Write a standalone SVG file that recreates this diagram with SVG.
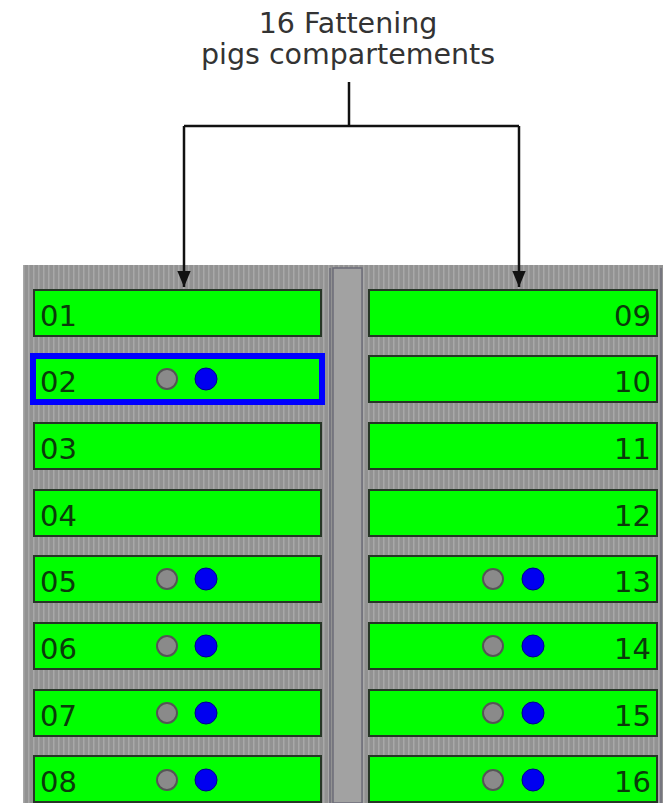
<svg xmlns="http://www.w3.org/2000/svg" width="666" height="803" viewBox="0 0 666 803">
<style>
.pen{fill:#00ff00;stroke:#263626;stroke-width:2}
.num{font-family:"DejaVu Sans",Verdana,sans-serif;font-size:29px;fill:#0b3a0b}
.title{font-family:"DejaVu Sans",Verdana,sans-serif;font-size:28.5px;fill:#333;text-anchor:middle}
.g{fill:#8a8a8a;stroke:#555;stroke-width:2}
.b{fill:#0000f0;stroke:#00008a;stroke-width:1}
.con{fill:none;stroke:#111;stroke-width:2.5}
</style>
<defs>
<pattern id="stripes" width="5" height="10" patternUnits="userSpaceOnUse">
<rect width="5" height="10" fill="#929292"/>
<rect x="3" width="1.5" height="10" fill="#a8a8a8"/>
</pattern>
<marker id="arr" viewBox="0 0 12 10" refX="12" refY="5" markerWidth="6.5" markerHeight="5.5" orient="auto" markerUnits="strokeWidth">
<path d="M0,0 L12,5 L0,10 z" fill="#111"/>
</marker>
</defs>
<rect width="666" height="803" fill="#fff"/>
<g id="floor">
<rect x="23" y="265" width="640" height="538" fill="url(#stripes)"/>
<rect x="333" y="268" width="29" height="535" fill="#a2a2a2" stroke="#6c6c78" stroke-width="1.5"/>
<line x1="330" y1="268" x2="330" y2="803" stroke="#6c6c78" stroke-width="1.5"/>
<line x1="661" y1="268" x2="661" y2="803" stroke="#6c6c78" stroke-width="1.5"/>
</g>
<g id="title">
<text class="title" x="348" y="33">16 Fattening</text>
<text class="title" x="348" y="64">pigs compartements</text>
</g>
<g id="connectors">
<path class="con" d="M349,82 V126"/>
<path class="con" d="M184,126 H519"/>
<path class="con" d="M184,126 V287" marker-end="url(#arr)"/>
<path class="con" d="M519,126 V287" marker-end="url(#arr)"/>
</g>
<g id="c01"><rect class="pen" x="34" y="290" width="287" height="46"/><text class="num" x="40" y="326">01</text></g>
<g id="c02"><rect x="33" y="356" width="289" height="46" fill="#00ff00" stroke="#0000ff" stroke-width="6"/><text class="num" x="40" y="392">02</text><circle class="g" cx="167" cy="379" r="10"/><circle class="b" cx="206" cy="379" r="11"/></g>
<g id="c03"><rect class="pen" x="34" y="423" width="287" height="46"/><text class="num" x="40" y="459">03</text></g>
<g id="c04"><rect class="pen" x="34" y="490" width="287" height="46"/><text class="num" x="40" y="526">04</text></g>
<g id="c05"><rect class="pen" x="34" y="556" width="287" height="46"/><text class="num" x="40" y="592">05</text><circle class="g" cx="167" cy="579" r="10"/><circle class="b" cx="206" cy="579" r="11"/></g>
<g id="c06"><rect class="pen" x="34" y="623" width="287" height="46"/><text class="num" x="40" y="659">06</text><circle class="g" cx="167" cy="646" r="10"/><circle class="b" cx="206" cy="646" r="11"/></g>
<g id="c07"><rect class="pen" x="34" y="690" width="287" height="46"/><text class="num" x="40" y="726">07</text><circle class="g" cx="167" cy="713" r="10"/><circle class="b" cx="206" cy="713" r="11"/></g>
<g id="c08"><rect class="pen" x="34" y="756" width="287" height="46"/><text class="num" x="40" y="792">08</text><circle class="g" cx="167" cy="780" r="10"/><circle class="b" cx="206" cy="780" r="11"/></g>
<g id="c09"><rect class="pen" x="369" y="290" width="288" height="46"/><text class="num" x="651" y="326" text-anchor="end">09</text></g>
<g id="c10"><rect class="pen" x="369" y="356" width="288" height="46"/><text class="num" x="651" y="392" text-anchor="end">10</text></g>
<g id="c11"><rect class="pen" x="369" y="423" width="288" height="46"/><text class="num" x="651" y="459" text-anchor="end">11</text></g>
<g id="c12"><rect class="pen" x="369" y="490" width="288" height="46"/><text class="num" x="651" y="526" text-anchor="end">12</text></g>
<g id="c13"><rect class="pen" x="369" y="556" width="288" height="46"/><text class="num" x="651" y="592" text-anchor="end">13</text><circle class="g" cx="493" cy="579" r="10"/><circle class="b" cx="533" cy="579" r="11"/></g>
<g id="c14"><rect class="pen" x="369" y="623" width="288" height="46"/><text class="num" x="651" y="659" text-anchor="end">14</text><circle class="g" cx="493" cy="646" r="10"/><circle class="b" cx="533" cy="646" r="11"/></g>
<g id="c15"><rect class="pen" x="369" y="690" width="288" height="46"/><text class="num" x="651" y="726" text-anchor="end">15</text><circle class="g" cx="493" cy="713" r="10"/><circle class="b" cx="533" cy="713" r="11"/></g>
<g id="c16"><rect class="pen" x="369" y="756" width="288" height="46"/><text class="num" x="651" y="792" text-anchor="end">16</text><circle class="g" cx="493" cy="780" r="10"/><circle class="b" cx="533" cy="780" r="11"/></g>
</svg>
